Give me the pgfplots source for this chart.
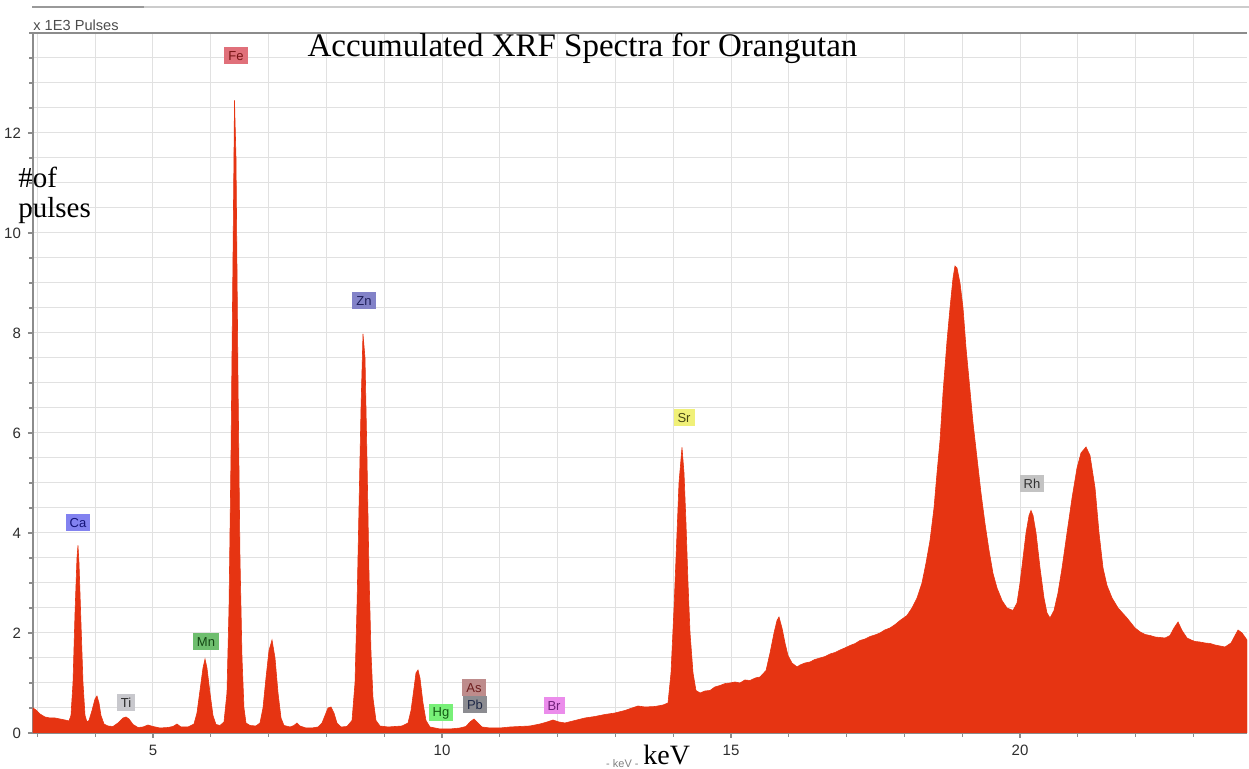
\documentclass[border=0pt]{standalone}
\usepackage{fontspec}
\setmainfont{Liberation Serif}
\newfontfamily\lsans{Liberation Sans}
\usepackage{pgfplots}
\pgfplotsset{compat=1.18}
\definecolor{spec}{RGB}{230,52,18}
\definecolor{axgray}{RGB}{140,140,140}
\definecolor{gridgray}{RGB}{225,225,225}
\pgfplotstableread{
x y
2.924 0.50
2.976 0.46
3.045 0.38
3.131 0.32
3.218 0.30
3.304 0.30
3.391 0.28
3.478 0.26
3.547 0.24
3.581 0.35
3.616 1.0
3.651 2.4
3.685 3.5
3.702 3.75
3.720 3.4
3.754 2.2
3.789 1.0
3.824 0.35
3.858 0.22
3.893 0.25
3.945 0.45
3.997 0.68
4.031 0.74
4.066 0.60
4.100 0.35
4.152 0.18
4.221 0.14
4.308 0.13
4.394 0.20
4.481 0.30
4.533 0.32
4.585 0.28
4.654 0.17
4.740 0.11
4.827 0.12
4.913 0.16
5.000 0.13
5.121 0.10
5.260 0.11
5.346 0.13
5.415 0.18
5.484 0.12
5.606 0.12
5.709 0.18
5.761 0.40
5.813 0.85
5.865 1.30
5.900 1.48
5.934 1.30
5.986 0.80
6.038 0.35
6.090 0.17
6.159 0.15
6.228 0.22
6.280 0.80
6.315 2.5
6.349 5.5
6.384 9.5
6.410 12.65
6.436 11.5
6.471 7.0
6.505 3.5
6.540 1.5
6.574 0.50
6.609 0.20
6.678 0.15
6.782 0.14
6.851 0.20
6.903 0.50
6.955 1.10
7.007 1.65
7.059 1.86
7.111 1.50
7.163 0.80
7.215 0.30
7.266 0.15
7.370 0.12
7.439 0.15
7.491 0.20
7.543 0.14
7.647 0.10
7.751 0.10
7.855 0.12
7.924 0.20
7.976 0.35
8.028 0.50
8.080 0.52
8.131 0.40
8.183 0.20
8.253 0.12
8.356 0.13
8.443 0.25
8.495 1.0
8.529 2.5
8.564 4.5
8.599 6.5
8.633 7.98
8.668 7.5
8.702 5.5
8.737 3.2
8.772 1.6
8.806 0.70
8.858 0.25
8.927 0.14
9.066 0.12
9.187 0.13
9.308 0.14
9.412 0.20
9.464 0.45
9.516 0.90
9.550 1.20
9.585 1.26
9.619 1.10
9.671 0.60
9.723 0.25
9.792 0.12
9.965 0.08
10.138 0.08
10.311 0.10
10.415 0.13
10.484 0.22
10.554 0.28
10.623 0.20
10.692 0.12
10.830 0.10
11.003 0.10
11.176 0.12
11.349 0.13
11.522 0.14
11.696 0.18
11.817 0.22
11.920 0.26
12.024 0.22
12.128 0.20
12.301 0.25
12.474 0.30
12.647 0.33
12.820 0.37
12.993 0.40
13.166 0.45
13.287 0.50
13.391 0.54
13.512 0.52
13.685 0.53
13.824 0.56
13.910 0.60
13.962 1.2
14.014 2.5
14.066 4.0
14.100 5.0
14.152 5.71
14.187 5.2
14.221 4.2
14.256 3.0
14.291 2.0
14.343 1.2
14.394 0.85
14.464 0.80
14.550 0.84
14.637 0.85
14.720 0.92
14.810 0.95
14.900 0.99
14.983 1.00
15.070 1.02
15.156 1.00
15.240 1.06
15.329 1.05
15.420 1.10
15.502 1.12
15.606 1.25
15.675 1.60
15.744 2.00
15.796 2.25
15.830 2.32
15.882 2.10
15.934 1.80
15.986 1.55
16.055 1.40
16.142 1.32
16.194 1.36
16.280 1.40
16.367 1.42
16.450 1.47
16.540 1.50
16.630 1.53
16.713 1.58
16.800 1.61
16.886 1.66
16.970 1.70
17.059 1.75
17.150 1.79
17.232 1.85
17.320 1.88
17.405 1.93
17.490 1.96
17.578 2.00
17.660 2.06
17.751 2.10
17.840 2.17
17.924 2.25
18.045 2.35
18.131 2.50
18.218 2.70
18.304 3.00
18.374 3.40
18.443 3.85
18.512 4.50
18.564 5.20
18.616 5.85
18.668 6.80
18.737 7.84
18.789 8.50
18.841 9.10
18.875 9.34
18.910 9.30
18.962 9.00
19.014 8.50
19.066 7.70
19.135 6.85
19.187 6.20
19.256 5.50
19.325 4.80
19.394 4.19
19.464 3.65
19.533 3.19
19.602 2.90
19.689 2.65
19.775 2.50
19.879 2.45
19.948 2.60
20.000 3.00
20.052 3.50
20.104 4.00
20.156 4.35
20.190 4.45
20.225 4.35
20.277 4.00
20.346 3.30
20.415 2.70
20.467 2.40
20.519 2.30
20.588 2.45
20.657 2.80
20.727 3.30
20.813 4.00
20.900 4.70
20.986 5.30
21.055 5.60
21.142 5.72
21.211 5.55
21.298 4.90
21.367 4.00
21.436 3.30
21.505 2.95
21.592 2.70
21.696 2.50
21.851 2.30
21.990 2.10
22.080 2.02
22.163 1.97
22.250 1.95
22.336 1.92
22.420 1.91
22.509 1.90
22.595 1.95
22.664 2.10
22.734 2.22
22.803 2.05
22.889 1.90
22.960 1.86
23.028 1.83
23.110 1.82
23.201 1.80
23.290 1.79
23.374 1.76
23.460 1.74
23.547 1.72
23.651 1.80
23.720 1.95
23.772 2.06
23.841 2.00
23.927 1.86
}\spectrum
\tikzset{el/.style={font=\lsans\fontsize{6.5}{7}\selectfont, inner xsep=2pt, inner ysep=1.3pt, minimum height=8.5pt}}
\begin{document}
\begin{tikzpicture}
\path[use as bounding box] (0,0) rectangle (624.5pt,384.5pt);
\draw[black!40, line width=0.8pt] (16pt,381pt) -- (72pt,381pt);
\draw[black!20, line width=0.8pt] (72pt,381pt) -- (624.5pt,381pt);
\begin{axis}[
  at={(16.5pt,18pt)}, anchor=south west,
  scale only axis, width=607pt, height=350pt,
  xmin=2.924, xmax=23.927, ymin=0, ymax=14,
  axis x line*=bottom, axis y line*=left,
  xtick={5,10,15,20},
  minor xtick={3,4,...,23},
  ytick={0,2,...,12},
  minor ytick={0,0.5,...,14},
  grid=both,
  major grid style={color=gridgray, line width=0.5pt},
  minor grid style={color=gridgray, line width=0.5pt},
  tick align=outside,
  major tick length=2.5pt, minor tick length=1.8pt,
  tick style={color=axgray, line width=0.6pt},
  axis line style={color=axgray, line width=0.9pt},
  ticklabel style={font=\lsans\fontsize{7.5}{9}\selectfont, text=black!82},
  /pgf/number format/assume math mode=true,
]
\addplot[draw=spec, fill=spec, line width=0.3pt] table[x=x,y=y] {\spectrum} \closedcycle;
\draw[axgray, line width=0.9pt] (rel axis cs:0,1) -- (rel axis cs:1,1);
\node[el, fill={rgb,255:red,224;green,112;blue,122}, text={rgb,255:red,120;green,20;blue,20}] at (axis cs:6.436,13.54) {Fe};
\node[el, fill={rgb,255:red,130;green,130;blue,200}, text={rgb,255:red,30;green,30;blue,90}] at (axis cs:8.651,8.64) {Zn};
\node[el, fill={rgb,255:red,130;green,130;blue,240}, text={rgb,255:red,20;green,20;blue,120}] at (axis cs:3.702,4.20) {Ca};
\node[el, fill={rgb,255:red,110;green,190;blue,110}, text={rgb,255:red,20;green,70;blue,20}] at (axis cs:5.917,1.82) {Mn};
\node[el, fill={rgb,255:red,200;green,200;blue,205}, text={rgb,255:red,40;green,40;blue,40}] at (axis cs:4.533,0.60) {Ti};
\node[el, fill={rgb,255:red,120;green,240;blue,120}, text={rgb,255:red,20;green,90;blue,20}] at (axis cs:9.983,0.40) {Hg};
\node[el, fill={rgb,255:red,190;green,140;blue,140}, text={rgb,255:red,110;green,30;blue,30}] at (axis cs:10.554,0.90) {As};
\node[el, fill={rgb,255:red,140;green,140;blue,145}, text={rgb,255:red,30;green,40;blue,70}] at (axis cs:10.571,0.56) {Pb};
\node[el, fill={rgb,255:red,235;green,140;blue,235}, text={rgb,255:red,110;green,30;blue,120}] at (axis cs:11.938,0.54) {Br};
\node[el, fill={rgb,255:red,240;green,240;blue,120}, text={rgb,255:red,70;green,70;blue,20}] at (axis cs:14.187,6.30) {Sr};
\node[el, fill={rgb,255:red,195;green,195;blue,195}, text={rgb,255:red,50;green,50;blue,50}] at (axis cs:20.208,4.98) {Rh};
\end{axis}
\node[anchor=base, font=\fontsize{16.5}{18}\selectfont] at (291.25pt,356pt) {Accumulated XRF Spectra for Orangutan};
\node[anchor=base west, inner sep=0pt, font=\fontsize{14.5}{15}\selectfont, align=left] at (9pt,290.5pt) {\#of};
\node[anchor=base west, inner sep=0pt, font=\fontsize{14.5}{15}\selectfont] at (9pt,275.5pt) {pulses};
\node[anchor=west, inner sep=0pt, font=\lsans\fontsize{7.3}{8}\selectfont, text=black!70] at (16.5pt,372pt) {x 1E3 Pulses};
\node[anchor=east, inner sep=0pt, font=\lsans\fontsize{5.5}{6}\selectfont, text=black!50] at (319.5pt,2.5pt) {- keV -};
\node[anchor=base west, inner sep=0pt, font=\fontsize{14}{15}\selectfont] at (321.5pt,2pt) {keV};
\end{tikzpicture}
\end{document}
